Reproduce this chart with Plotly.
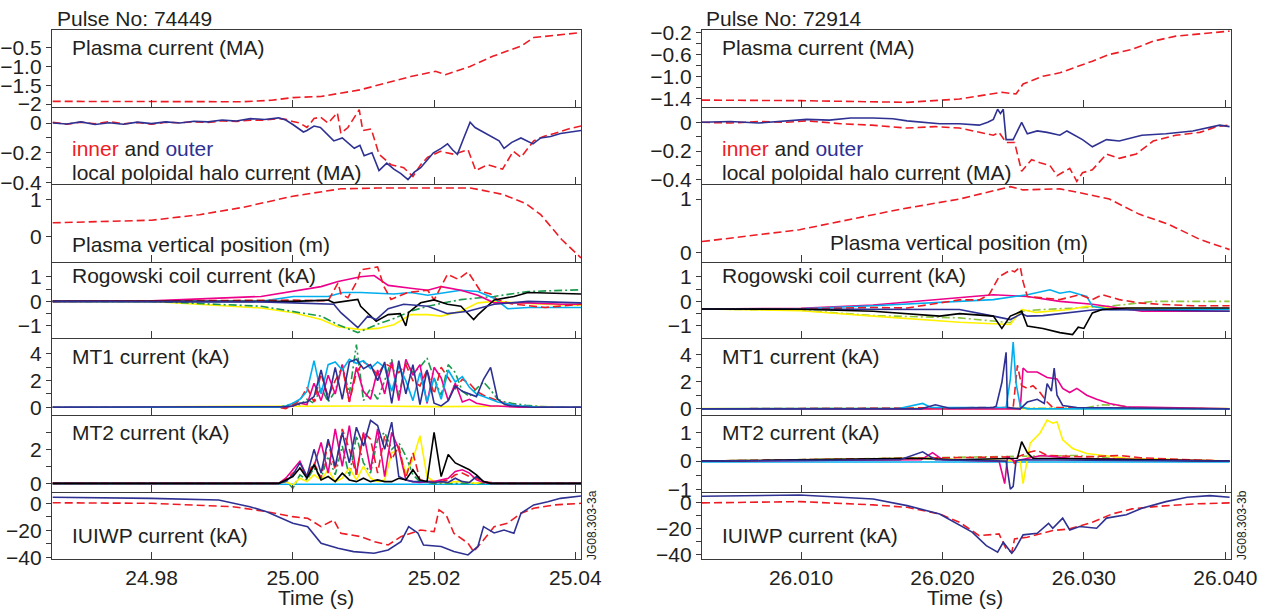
import plotly.graph_objects as go

# ---------------- colours ----------------
RED = '#ed1c24'; NAVY = '#2e3192'; MAGENTA = '#ec008c'; CYAN = '#00aeef'
BLACK = '#000000'; YELLOW = '#fff200'; GREEN_L = '#1a9b4b'; GREEN_R = '#8dc63f'
TXT = '#231f20'; AXC = '#3a3a3a'
FONT = 'Liberation Sans, Arial, sans-serif'

# ================= Pulse 74449 (left) =================
L_ip_t = [24.966, 24.975, 24.985, 24.993, 24.997, 25.000, 25.004, 25.0096, 25.0167, 25.0202, 25.0216, 25.0251, 25.0283, 25.0323, 25.0341, 25.0408]
L_ip_v = [-1.93, -1.94, -1.95, -1.94, -1.90, -1.83, -1.80, -1.62, -1.27, -1.13, -1.22, -1.00, -0.73, -0.46, -0.23, -0.10]

L_halo_out_t = [24.966, 24.968, 24.970, 24.972, 24.974, 24.976, 24.978, 24.980, 24.982, 24.984, 24.986, 24.988, 24.990, 24.992, 24.994, 24.996, 24.998, 24.999, 25.000,
                25.001, 25.0015, 25.002, 25.003, 25.0039, 25.0050, 25.0058, 25.0070, 25.0087, 25.0095, 25.0101, 25.0112, 25.0122, 25.0133,
                25.0143, 25.0153, 25.0163, 25.0172, 25.0181, 25.0190, 25.0199, 25.0210, 25.0219, 25.0226, 25.0233, 25.0242, 25.0251, 25.0258,
                25.0266, 25.0276, 25.0285, 25.0292, 25.0299, 25.0310, 25.0323, 25.0332, 25.0340, 25.0351, 25.0365, 25.0379, 25.0393, 25.0408]
L_halo_out_v = [0.0, -0.006, 0.008, -0.01, 0.002, -0.008, 0.006, -0.004, 0.008, 0.0, 0.012, 0.008, 0.02, 0.014, 0.03, 0.024, 0.035, 0.02, -0.01,
                -0.04, -0.06, -0.05, -0.02, -0.03, -0.08, -0.12, -0.10, -0.17, -0.15, -0.22, -0.20, -0.32, -0.27,
                -0.31, -0.34, -0.38, -0.33, -0.30, -0.25, -0.20, -0.17, -0.14, -0.18, -0.21, -0.10, 0.005, -0.03,
                -0.05, -0.08, -0.10, -0.12, -0.17, -0.13, -0.10, -0.12, -0.14, -0.10, -0.09, -0.07, -0.06, -0.05]
L_halo_in_t = [24.966, 24.968, 24.970, 24.972, 24.974, 24.976, 24.978, 24.980, 24.982, 24.984, 24.986, 24.988, 24.990, 24.992, 24.994, 24.996, 24.998, 24.999, 25.000,
               25.001, 25.002, 25.003, 25.0039, 25.0050, 25.0063, 25.0068, 25.0078, 25.0094, 25.0099, 25.0111, 25.0122, 25.0139,
               25.0157, 25.0170, 25.0181, 25.0191, 25.0209, 25.0228, 25.0248, 25.0259, 25.0276, 25.0297,
               25.0312, 25.0323, 25.0341, 25.0355, 25.0370, 25.0390, 25.0408]
L_halo_in_v = [0.005, -0.008, 0.006, -0.005, 0.01, -0.006, 0.004, -0.008, 0.005, 0.002, 0.008, 0.004, 0.015, 0.01, 0.02, 0.02, 0.03, 0.025, 0.01,
               0.0, -0.03, 0.03, 0.04, 0.0, 0.07, -0.07, -0.03, 0.09, -0.05, -0.04, -0.21, -0.28,
               -0.30, -0.36, -0.28, -0.23, -0.19, -0.21, -0.18, -0.32, -0.28, -0.31,
               -0.19, -0.23, -0.12, -0.09, -0.07, -0.04, -0.02]

L_zpos_t = [24.966, 24.980, 24.9868, 24.993, 25.000, 25.0068, 25.012, 25.020, 25.0251, 25.0266, 25.0297, 25.0330, 25.0351, 25.0381, 25.0408]
L_zpos_v = [0.38, 0.45, 0.60, 0.80, 1.10, 1.30, 1.32, 1.32, 1.32, 1.27, 1.15, 0.90, 0.60, -0.08, -0.57]

# Rogowski coil currents (kA)
L_rog_yellow_t = [24.966, 24.980, 24.9955, 25.0001, 25.0040, 25.0064, 25.0096, 25.0120, 25.0143, 25.0167, 25.0191, 25.0210, 25.0238, 25.0262, 25.0285, 25.0313, 25.0341, 25.0381, 25.0408]
L_rog_yellow_v = [0.0, 0.0, -0.27, -0.46, -0.74, -1.03, -1.15, -1.10, -0.95, -0.54, -0.54, -0.60, -0.40, -0.06, 0.0, -0.06, -0.10, -0.15, -0.15]
L_rog_green_t = [24.966, 24.980, 24.9955, 25.0001, 25.0040, 25.0064, 25.0092, 25.0120, 25.0143, 25.0167, 25.0191, 25.0214, 25.0238, 25.0285, 25.0333, 25.0408]
L_rog_green_v = [0.0, 0.0, -0.20, -0.40, -0.60, -0.95, -1.27, -0.93, -0.70, -0.40, -0.20, -0.06, 0.07, 0.20, 0.40, 0.47]
L_rog_magenta_t = [24.966, 24.980, 24.9955, 25.0001, 25.0040, 25.0064, 25.0096, 25.0115, 25.0135, 25.0167, 25.0191, 25.0210, 25.0238, 25.0262, 25.0285, 25.0333, 25.0381, 25.0408]
L_rog_magenta_v = [0.0, 0.02, 0.20, 0.40, 0.60, 0.81, 1.00, 1.05, 0.65, 0.53, 0.45, 0.60, 0.45, 0.25, -0.06, -0.06, -0.12, -0.12]
L_rog_red_t = [24.966, 24.9955, 25.0001, 25.0050, 25.0064, 25.0068, 25.0078, 25.0092, 25.0096, 25.0120, 25.0129, 25.0139, 25.0163, 25.0191, 25.0200, 25.0219, 25.0234, 25.0248, 25.0266, 25.0280, 25.0290, 25.0309, 25.0357, 25.0408]
L_rog_red_v = [0.0, 0.03, 0.05, 0.02, 0.75, 0.30, 0.15, 0.88, 1.28, 1.40, 0.60, 0.08, 0.36, 0.45, 0.06, 1.10, 0.90, 1.20, 0.40, 0.30, 0.06, -0.10, -0.25, -0.12]
L_rog_cyan_t = [24.966, 24.9955, 25.0001, 25.0050, 25.0071, 25.0096, 25.0143, 25.0167, 25.0191, 25.0238, 25.0262, 25.0285, 25.0304, 25.0333, 25.0408]
L_rog_cyan_v = [0.0, 0.0, 0.20, 0.20, 0.36, 0.36, 0.30, 0.36, 0.25, 0.45, 0.40, 0.13, -0.30, -0.25, -0.25]
L_rog_black_t = [24.966, 24.9955, 25.0001, 25.0050, 25.0058, 25.0092, 25.0096, 25.0118, 25.0135, 25.0152, 25.0160, 25.0164, 25.0181, 25.0200, 25.0219, 25.0238, 25.0256, 25.0262, 25.0285, 25.0313, 25.0333, 25.0408]
L_rog_black_v = [0.0, 0.0, 0.0, 0.05, -0.06, 0.08, -0.20, -0.81, -0.54, -0.50, -1.00, -0.45, -0.06, 0.06, -0.12, -0.20, -0.74, -0.55, 0.06, 0.20, 0.36, 0.30]
L_rog_navy_t = [24.966, 24.9955, 25.0001, 25.0058, 25.0068, 25.0092, 25.0106, 25.0118, 25.0135, 25.0157, 25.0191, 25.0219, 25.0248, 25.0266, 25.0285, 25.0333, 25.0408]
L_rog_navy_v = [0.0, -0.02, -0.06, -0.12, -0.46, -1.07, -0.60, -0.74, -0.30, -0.12, -0.20, -0.50, -0.40, -0.25, -0.12, 0.0, -0.06]

# MT1 / MT2 currents (kA) on a shared time base
L_mt_t = [24.966, 24.990, 24.998, 24.999, 25.000, 25.001, 25.002, 25.003, 25.004, 25.005, 25.006, 25.007,
          25.008, 25.009, 25.010, 25.011, 25.012, 25.013, 25.014, 25.015, 25.016, 25.017, 25.018, 25.019,
          25.020, 25.021, 25.022, 25.023, 25.024, 25.025, 25.026, 25.027, 25.028, 25.029, 25.030, 25.031,
          25.032, 25.033, 25.034, 25.035, 25.0408]
L_mt1_cyan = [0, 0] + [0.0, 0.1, 0.3, 0.6, 1.2, 3.5, 1.0, 3.2, 3.4, 2.8, 3.6, 3.3, 3.5, 2.9, 3.4, 3.0, 1.2, 3.1, 2.0, 0.5, 2.6, 0.4, 2.2, 0.6, 2.8, 1.9, 2.3, 1.5, 1.0, 0.8, 0.6, 0.4, 0.3, 0.2, 0.1, 0.1, 0.05, 0.0] + [0]
L_mt1_navy = [0, 0] + [0, 0.05, 0.1, 0.3, 0.4, 0.8, 2.8, 0.5, 3.0, 0.6, 3.4, 3.6, 2.9, 3.2, 2.0, 3.4, 0.3, 3.5, 1.0, 3.2, 0.2, 2.8, 0.3, 0.1, 0.5, 1.6, 1.2, 1.0, 0.8, 2.1, 3.0, 0.6, 0.2, 0.1, 0.05, 0, 0, 0] + [0]
L_mt1_red = [0, 0] + [0, -0.1, 0.2, 0.5, 1.5, 0.4, 2.5, 0.8, 2.0, 3.0, 0.4, 2.6, 3.4, 3.1, 2.4, 3.3, 3.0, 2.6, 3.2, 2.0, 1.6, 2.8, 1.0, 3.0, 2.2, 1.4, 2.1, 1.8, 1.2, 0.9, 0.7, 0.5, 0.3, 0.2, 0.1, 0.1, 0, 0] + [0]
L_mt1_magenta = [0, 0] + [0, 0, 0.1, 0.3, 0.2, 1.8, 0.5, 2.4, 1.0, 3.2, 0.4, 3.0, 1.2, 0.6, 2.8, 1.0, 3.4, 0.5, 3.6, 2.4, 3.2, 0.3, 3.0, 2.2, 0.5, 1.8, 0.4, 0.6, 0.3, 0.2, 0.1, 0.1, 0.05, 0, 0, 0, 0, 0] + [0]
L_mt1_green = [0, 0] + [0, 0.1, 0.3, 0.2, 0.6, 0.3, 1.5, 0.4, 1.2, 3.2, 1.0, 4.7, 0.5, 1.4, 0.6, 2.0, 3.6, 0.8, 3.4, 2.6, 3.0, 3.7, 2.2, 0.9, 3.2, 2.6, 1.2, 0.8, 1.4, 1.9, 1.3, 0.6, 0.4, 0.3, 0.2, 0.15, 0.1, 0.05] + [0]
L_mt1_yellow_t = [24.966, 25.000, 25.010, 25.020, 25.030, 25.0408]
L_mt1_yellow_v = [0.0, 0.05, 0.10, 0.05, 0.08, 0.02]

L_mt2_navy = [0, 0] + [0, 0.1, 0.5, 1.2, 0.4, 2.0, 0.6, 2.6, 1.0, 3.0, 1.2, 3.3, 2.2, 3.7, 3.4, 2.0, 3.6, 0.4, 0.2, 0.1, 0.1, 0.1, 0.05, 0.1, 0.05, 0.3, 0.1, 0.05, 0.4, 0.1, 0, 0, 0, 0, 0, 0, 0, 0] + [0]
L_mt2_red = [0, 0] + [0, 0.2, 0.6, 0.9, 0.5, 1.2, 0.3, 2.4, 0.8, 3.2, 2.0, 0.5, 3.0, 2.6, 0.6, 2.8, 1.4, 2.2, 0.3, 1.8, 0.2, 0.1, 0.1, 0.1, 0.2, 0.5, 0.6, 0.4, 0.3, 0.1, 0.05, 0, 0, 0, 0, 0, 0, 0] + [0]
L_mt2_magenta = [0, 0] + [0, 0.3, 0.8, 1.3, 0.4, 1.0, 2.4, 0.6, 3.2, 1.0, 3.4, 0.5, 3.0, 0.8, 3.2, 0.4, 3.0, 2.0, 0.2, 0.1, 0.05, 0.1, 0.1, 0.2, 0.3, 0.7, 0.8, 0.6, 0.2, 0.05, 0, 0, 0, 0, 0, 0, 0, 0] + [0]
L_mt2_green = [0, 0] + [0, 0.2, -0.3, 0.5, 0.2, 0.9, 0.3, 1.6, 0.5, 2.2, 0.4, 2.8, 1.2, 0.6, 2.6, 3.0, 2.0, 2.4, 1.6, 0.5, 0.1, 0.05, 0, 0, 0, 0, 0, 0, 0, 0, 0, 0, 0, 0, 0, 0, 0, 0] + [0]
L_mt2_yellow = [0, 0] + [0, 0.1, -0.1, 0.3, 0.1, 0.5, 0.2, 0.8, 0.1, 0.3, 0.9, 0.2, 1.0, 0.3, 0.1, 0.2, 1.8, 2.0, 0.6, 1.4, 2.8, 0.4, 0.1, 0.05, 0.05, 0.1, 0.1, 0.05, 0, 0.1, 0, 0, 0, 0, 0, 0, 0, 0] + [0]
L_mt2_black = [0, 0] + [0, 0.2, 0.4, 0.9, 0.3, 1.1, 0.2, 0.4, 0.1, 0.6, 0.2, 0.1, 0.3, 0.1, 0.2, 0.1, 0.1, 0.3, 0.2, 0.8, 0.2, 0.1, 3.0, 0.4, 1.7, 1.2, 1.0, 0.8, 0.5, 0.1, 0, 0, 0, 0, 0, 0, 0, 0] + [0]
L_mt2_cyan_t = [24.966, 25.0408]
L_mt2_cyan_v = [-0.05, -0.05]

L_iu_navy_t = [24.966, 24.980, 24.9895, 24.9939, 24.9963, 25.000, 25.0021, 25.004, 25.0064, 25.0086, 25.0115, 25.0135, 25.0153, 25.0164, 25.0177, 25.0185, 25.0210, 25.0228, 25.0248, 25.0262, 25.0270, 25.0285, 25.0299, 25.0313, 25.0323, 25.0341, 25.0361, 25.0379, 25.0408]
L_iu_navy_v = [4.5, 3.7, 2.5, -2.5, -6.2, -14.8, -17.3, -29.6, -33.3, -35.8, -37.0, -34.6, -28.4, -17.3, -22.0, -30.9, -32.0, -35.8, -38.3, -32.0, -17.3, -22.0, -19.8, -22.2, -7.4, -1.2, 1.2, 3.7, 5.4]
L_iu_red_t = [24.966, 24.980, 24.9915, 24.9963, 25.000, 25.0021, 25.004, 25.0058, 25.0068, 25.0096, 25.0115, 25.0135, 25.0153, 25.0181, 25.0200, 25.0207, 25.0217, 25.0228, 25.0248, 25.0256, 25.0270, 25.0285, 25.0304, 25.0323, 25.0341, 25.0370, 25.0408]
L_iu_red_v = [0.4, 0.0, -2.5, -6.2, -9.9, -11.1, -17.3, -12.3, -22.2, -24.7, -28.4, -30.9, -24.7, -19.8, -21.0, -4.9, -8.6, -22.2, -29.6, -35.8, -27.2, -17.3, -14.8, -7.4, -3.7, -1.2, 0.0]

# ================= Pulse 72914 (right) =================
R_ip_t = [26.003, 26.010, 26.0175, 26.0212, 26.0242, 26.0252, 26.0257, 26.0271, 26.0283, 26.0297, 26.0306, 26.0318, 26.0334, 26.0349, 26.0365, 26.0403]
R_ip_v = [-1.42, -1.43, -1.46, -1.40, -1.28, -1.31, -1.13, -0.99, -0.93, -0.81, -0.72, -0.60, -0.51, -0.36, -0.27, -0.18]

R_halo_out_t = [26.003, 26.005, 26.007, 26.009, 26.0104, 26.012, 26.0135, 26.0151, 26.0165, 26.0175, 26.0188, 26.0198, 26.0212, 26.0226, 26.0232, 26.0236, 26.0239, 26.0241, 26.0243, 26.0245,
                26.0250, 26.0256, 26.0260, 26.0267, 26.0274, 26.0283, 26.0288, 26.0299, 26.0306, 26.0316, 26.0325, 26.0341, 26.0358, 26.0377, 26.0396, 26.0403]
R_halo_out_v = [0.0, 0.005, -0.005, 0.01, 0.02, 0.015, 0.03, 0.03, 0.025, 0.01, 0.0, -0.01, -0.01, -0.02, 0.0, 0.02, 0.09, 0.06, 0.09, -0.12,
                -0.12, 0.0, -0.08, -0.06, -0.07, -0.09, -0.06, -0.12, -0.17, -0.12, -0.13, -0.09, -0.08, -0.06, -0.02, -0.03]
R_halo_in_t = [26.003, 26.005, 26.007, 26.009, 26.0104, 26.0128, 26.0150, 26.0175, 26.0195, 26.0212, 26.0236, 26.0240, 26.0245, 26.0251, 26.0256, 26.0263, 26.0269, 26.0276, 26.0281, 26.0290,
               26.0295, 26.0299, 26.0306, 26.0316, 26.0325, 26.0337, 26.0349, 26.0365, 26.0382, 26.0394, 26.0403]
R_halo_in_v = [0.0, -0.005, 0.005, 0.0, 0.01, -0.01, -0.02, -0.04, -0.03, -0.04, -0.09, -0.07, -0.14, -0.14, -0.34, -0.26, -0.28, -0.30, -0.37, -0.32,
               -0.41, -0.35, -0.33, -0.22, -0.25, -0.22, -0.13, -0.09, -0.07, -0.03, -0.02]

R_zpos_t = [26.003, 26.0099, 26.017, 26.0212, 26.0248, 26.0257, 26.0283, 26.0295, 26.0318, 26.0339, 26.0360, 26.0382, 26.0403]
R_zpos_v = [0.21, 0.43, 0.81, 1.00, 1.23, 1.17, 1.19, 1.13, 1.00, 0.72, 0.53, 0.25, 0.06]

R_rog_red_t = [26.003, 26.010, 26.0151, 26.0175, 26.0212, 26.0226, 26.0233, 26.0240, 26.0248, 26.0251, 26.0255, 26.0257, 26.0260, 26.0271, 26.0283, 26.0297, 26.0306, 26.0313, 26.0325, 26.0339, 26.0353, 26.0377, 26.0403]
R_rog_red_v = [-0.31, -0.31, -0.25, -0.27, 0.06, 0.06, 0.27, 1.00, 1.27, 1.20, 1.40, 0.80, 0.20, 0.15, 0.07, 0.27, 0.07, 0.27, 0.07, -0.06, -0.12, -0.18, -0.18]
R_rog_cyan_t = [26.003, 26.010, 26.0151, 26.0212, 26.0236, 26.0260, 26.0276, 26.0283, 26.0290, 26.0302, 26.0306, 26.0318, 26.0403]
R_rog_cyan_v = [-0.31, -0.30, -0.18, 0.0, 0.07, 0.27, 0.47, 0.33, 0.40, 0.20, -0.20, -0.33, -0.33]
R_rog_magenta_t = [26.003, 26.010, 26.0151, 26.0212, 26.0236, 26.0260, 26.0283, 26.0306, 26.0341, 26.0403]
R_rog_magenta_v = [-0.31, -0.28, -0.15, 0.13, 0.27, 0.20, 0.0, -0.12, -0.40, -0.40]
R_rog_black_t = [26.003, 26.010, 26.0151, 26.0198, 26.0212, 26.0236, 26.0242, 26.0248, 26.0256, 26.0260, 26.0271, 26.0283, 26.0292, 26.0296, 26.0300, 26.0306, 26.0313, 26.0330, 26.0403]
R_rog_black_v = [-0.31, -0.32, -0.40, -0.60, -0.50, -0.60, -1.10, -0.60, -0.40, -1.00, -1.10, -1.27, -1.35, -1.05, -1.10, -0.47, -0.33, -0.27, -0.27]
R_rog_yellow_t = [26.003, 26.010, 26.0151, 26.0212, 26.0248, 26.0256, 26.0266, 26.0278, 26.0290, 26.0302, 26.0318, 26.0403]
R_rog_yellow_v = [-0.31, -0.38, -0.60, -0.85, -0.94, -0.33, -0.45, -0.40, -0.33, -0.20, -0.27, -0.33]
R_rog_navy_t = [26.003, 26.010, 26.0151, 26.0212, 26.0236, 26.0248, 26.0256, 26.0260, 26.0271, 26.0283, 26.0295, 26.0306, 26.0318, 26.0403]
R_rog_navy_v = [-0.31, -0.31, -0.32, -0.33, -0.60, -0.74, -0.50, -0.60, -0.58, -0.50, -0.40, -0.35, -0.33, -0.40]
R_rog_green_t = [26.003, 26.010, 26.0151, 26.0212, 26.0236, 26.0248, 26.0256, 26.0271, 26.0295, 26.0318, 26.0349, 26.0377, 26.0403]
R_rog_green_v = [-0.31, -0.36, -0.58, -0.67, -0.80, -0.87, -0.40, -0.33, -0.27, -0.20, 0.0, 0.0, 0.0]

R_mt1_navy_t = [26.003, 26.0185, 26.0195, 26.0205, 26.0236, 26.0238, 26.0242, 26.0245, 26.0246, 26.0255, 26.0260, 26.0267, 26.0272, 26.0274, 26.0277, 26.0279, 26.0281, 26.0285, 26.0295, 26.0403]
R_mt1_navy_v = [0, 0.0, 0.3, 0.05, 0.1, 0.2, 1.93, 4.15, 0.1, 0.0, 0.5, 0.7, 0.4, 1.85, 1.3, 3.0, 1.0, 0.25, 0.1, 0.0]
R_mt1_cyan_t = [26.003, 26.017, 26.0186, 26.0192, 26.0245, 26.0248, 26.0250, 26.0252, 26.0255, 26.0260, 26.0403]
R_mt1_cyan_v = [0, 0.05, 0.4, 0.1, 0.1, 2.2, 4.9, 1.9, 0.2, 0.0, 0.0]
R_mt1_red_t = [26.003, 26.0250, 26.0253, 26.0256, 26.0260, 26.0264, 26.0269, 26.0274, 26.0278, 26.0403]
R_mt1_red_v = [0, 0.1, 3.2, 1.7, 1.5, 1.7, 1.2, 0.5, 0.1, 0.0]
R_mt1_magenta_t = [26.003, 26.0255, 26.0257, 26.0260, 26.0267, 26.0274, 26.0281, 26.0285, 26.0290, 26.0295, 26.0302, 26.0309, 26.0318, 26.0330, 26.0403]
R_mt1_magenta_v = [0, 0.0, 3.0, 2.7, 2.7, 2.3, 2.2, 1.5, 1.2, 1.5, 1.0, 0.7, 0.4, 0.15, 0.0]
R_mt1_green_t = [26.003, 26.030, 26.0313, 26.0325, 26.0337, 26.0403]
R_mt1_green_v = [0, 0.05, 0.3, 0.25, 0.05, 0.0]
R_mt1_yellow_t = [26.003, 26.0403]
R_mt1_yellow_v = [0.02, 0.02]

R_mt2_navy_t = [26.003, 26.017, 26.0186, 26.0195, 26.0245, 26.0248, 26.0250, 26.0252, 26.0255, 26.0403]
R_mt2_navy_v = [0, 0.05, 0.33, 0.05, 0.0, -1.0, -0.9, 0.0, 0.05, 0.0]
R_mt2_magenta_t = [26.003, 26.0185, 26.0193, 26.0200, 26.0240, 26.0244, 26.0246, 26.0251, 26.0270, 26.0290, 26.0403]
R_mt2_magenta_v = [0, 0.05, 0.3, 0.05, 0.0, -0.8, 0.15, 0.0, 0.2, 0.1, 0.0]
R_mt2_yellow_t = [26.003, 26.018, 26.022, 26.0255, 26.0257, 26.0262, 26.0269, 26.0274, 26.0278, 26.0281, 26.0285, 26.0292, 26.0302, 26.0318, 26.0330, 26.0403]
R_mt2_yellow_v = [0, 0.1, 0.05, 0.0, -0.8, 0.64, 1.0, 1.46, 1.35, 1.4, 0.76, 0.45, 0.27, 0.18, 0.1, 0.0]
R_mt2_black_t = [26.003, 26.018, 26.021, 26.0253, 26.0256, 26.0260, 26.0264, 26.0285, 26.030, 26.0403]
R_mt2_black_v = [0, 0.1, 0.05, 0.1, 0.69, 0.3, 0.1, 0.1, 0.08, 0.0]
R_mt2_red_t = [26.003, 26.0249, 26.0251, 26.0253, 26.0262, 26.0267, 26.0274, 26.0302, 26.0325, 26.0340, 26.0377, 26.0403]
R_mt2_red_v = [0, 0.15, -0.1, 0.15, 0.32, 0.38, 0.2, 0.15, 0.2, 0.12, 0.04, 0.0]
R_mt2_green_t = [26.003, 26.0274, 26.0295, 26.0320, 26.0376, 26.0403]
R_mt2_green_v = [0, 0.2, 0.2, 0.1, 0.05, 0.0]
R_mt2_cyan_t = [26.003, 26.0403]
R_mt2_cyan_v = [-0.03, -0.03]

R_iu_navy_t = [26.003, 26.0099, 26.0151, 26.0175, 26.0198, 26.0212, 26.0221, 26.0231, 26.0239, 26.0243, 26.0249, 26.0251, 26.0257, 26.0267, 26.0275, 26.0278, 26.0285, 26.0290, 26.0297, 26.0309, 26.0316, 26.0330, 26.0341, 26.0358, 26.0373, 26.0389, 26.0403]
R_iu_navy_v = [4.6, 5.6, 2.5, -2.6, -9.0, -17.5, -23.0, -33.4, -38.5, -30.8, -39.3, -36.7, -25.1, -23.9, -16.2, -20.0, -12.2, -21.3, -18.7, -20.0, -12.2, -9.7, -4.6, 0.5, 3.8, 5.1, 3.8]
R_iu_red_t = [26.003, 26.0099, 26.0151, 26.0175, 26.0198, 26.0212, 26.0226, 26.0240, 26.0245, 26.0249, 26.0251, 26.0260, 26.0278, 26.0290, 26.0306, 26.0320, 26.0334, 26.0353, 26.0377, 26.0403]
R_iu_red_v = [-0.5, 0.5, -2.0, -3.9, -9.0, -15.4, -25.7, -24.4, -35.9, -38.5, -28.2, -26.9, -21.8, -20.5, -15.4, -9.0, -5.1, -3.1, -1.3, -0.5]

# ---------------- axis tick labels ----------------
L_xticks = [24.98, 25.00, 25.02, 25.04]; L_xtext = ['24.98', '25.00', '25.02', '25.04']
R_xticks = [26.01, 26.02, 26.03, 26.04]; R_xtext = ['26.010', '26.020', '26.030', '26.040']

# ---------------- layout geometry (pixels) ----------------
W, H = 1275, 612
PB = [30, 107, 184, 262, 338, 415, 492, 559]
COLX = [(52, 581), (702, 1231)]
XR = [[24.9659, 25.0408], [26.0030, 26.0404]]
XT = [(L_xticks, L_xtext), (R_xticks, R_xtext)]

M = '\u2212'
YCFG = [
    [  # left
        dict(r=[-2.08, -0.03], tv=[-0.5, -1.0, -1.5, -2], tt=[M+'0.5', M+'1.0', M+'1.5', M+'2'], mv=[]),
        dict(r=[-0.41, 0.108], tv=[0, -0.2, -0.4], tt=['0', M+'0.2', M+'0.4'], mv=[-0.1, -0.3]),
        dict(r=[-0.68, 1.43], tv=[1, 0], tt=['1', '0'], mv=[]),
        dict(r=[-1.49, 1.6], tv=[1, 0, -1], tt=['1', '0', M+'1'], mv=[0.5, -0.5]),
        dict(r=[-0.58, 5.2], tv=[4, 2, 0], tt=['4', '2', '0'], mv=[3, 1]),
        dict(r=[-0.51, 4.02], tv=[2, 0], tt=['2', '0'], mv=[3, 1]),
        dict(r=[-41.3, 8.4], tv=[0, -20, -40], tt=['0', M+'20', M+'40'], mv=[-10, -30]),
    ],
    [  # right
        dict(r=[-1.544, -0.16], tv=[-0.2, -0.6, -1.0, -1.4], tt=[M+'0.2', M+'0.6', M+'1.0', M+'1.4'], mv=[-0.4, -0.8, -1.2]),
        dict(r=[-0.428, 0.106], tv=[0, -0.2, -0.4], tt=['0', M+'0.2', M+'0.4'], mv=[-0.1, -0.3]),
        dict(r=[-0.17, 1.28], tv=[1, 0], tt=['1', '0'], mv=[]),
        dict(r=[-1.49, 1.6], tv=[1, 0, -1], tt=['1', '0', M+'1'], mv=[0.5, -0.5]),
        dict(r=[-0.45, 5.2], tv=[4, 2, 0], tt=['4', '2', '0'], mv=[3, 1]),
        dict(r=[-1.1, 1.64], tv=[1, 0, -1], tt=['1', '0', M+'1'], mv=[0.5, -0.5]),
        dict(r=[-43.7, 7.9], tv=[0, -20, -40], tt=['0', M+'20', M+'40'], mv=[-10, -30]),
    ],
]

fig = go.Figure()

def axn(col, row):
    return col * 7 + row + 1

def line(col, row, t, v, color, dash='solid', width=1.6):
    n = axn(col, row)
    fig.add_trace(go.Scatter(x=t, y=v, mode='lines',
                             line=dict(color=color, width=width, dash=dash),
                             xaxis='x' if n == 1 else f'x{n}', yaxis='y' if n == 1 else f'y{n}',
                             showlegend=False, hoverinfo='skip'))

DASH = '8px,4px'
DDOT = '8px,3px,2px,3px'

# ---- left traces ----
line(0, 0, L_ip_t, L_ip_v, RED, DASH)
line(0, 1, L_halo_in_t, L_halo_in_v, RED, DASH)
line(0, 1, L_halo_out_t, L_halo_out_v, NAVY)
line(0, 2, L_zpos_t, L_zpos_v, RED, DASH)
line(0, 3, L_rog_yellow_t, L_rog_yellow_v, YELLOW)
line(0, 3, L_rog_green_t, L_rog_green_v, GREEN_L, DDOT)
line(0, 3, L_rog_cyan_t, L_rog_cyan_v, CYAN)
line(0, 3, L_rog_magenta_t, L_rog_magenta_v, MAGENTA)
line(0, 3, L_rog_red_t, L_rog_red_v, RED, DASH)
line(0, 3, L_rog_black_t, L_rog_black_v, BLACK)
line(0, 3, L_rog_navy_t, L_rog_navy_v, NAVY)
line(0, 4, L_mt1_yellow_t, L_mt1_yellow_v, YELLOW)
line(0, 4, L_mt_t, L_mt1_green, GREEN_L, DDOT)
line(0, 4, L_mt_t, L_mt1_magenta, MAGENTA)
line(0, 4, L_mt_t, L_mt1_red, RED, DASH)
line(0, 4, L_mt_t, L_mt1_cyan, CYAN)
line(0, 4, L_mt_t, L_mt1_navy, NAVY)
line(0, 5, L_mt2_cyan_t, L_mt2_cyan_v, CYAN)
line(0, 5, L_mt_t, L_mt2_green, GREEN_L, DDOT)
line(0, 5, L_mt_t, L_mt2_yellow, YELLOW)
line(0, 5, L_mt_t, L_mt2_magenta, MAGENTA)
line(0, 5, L_mt_t, L_mt2_red, RED, DASH)
line(0, 5, L_mt_t, L_mt2_navy, NAVY)
line(0, 5, L_mt_t, L_mt2_black, BLACK)
line(0, 6, L_iu_red_t, L_iu_red_v, RED, DASH)
line(0, 6, L_iu_navy_t, L_iu_navy_v, NAVY)

# ---- right traces ----
line(1, 0, R_ip_t, R_ip_v, RED, DASH)
line(1, 1, R_halo_in_t, R_halo_in_v, RED, DASH)
line(1, 1, R_halo_out_t, R_halo_out_v, NAVY)
line(1, 2, R_zpos_t, R_zpos_v, RED, DASH)
line(1, 3, R_rog_green_t, R_rog_green_v, GREEN_R, DDOT)
line(1, 3, R_rog_yellow_t, R_rog_yellow_v, YELLOW)
line(1, 3, R_rog_magenta_t, R_rog_magenta_v, MAGENTA)
line(1, 3, R_rog_cyan_t, R_rog_cyan_v, CYAN)
line(1, 3, R_rog_red_t, R_rog_red_v, RED, DASH)
line(1, 3, R_rog_navy_t, R_rog_navy_v, NAVY)
line(1, 3, R_rog_black_t, R_rog_black_v, BLACK)
line(1, 4, R_mt1_yellow_t, R_mt1_yellow_v, YELLOW)
line(1, 4, R_mt1_green_t, R_mt1_green_v, GREEN_R, DDOT)
line(1, 4, R_mt1_magenta_t, R_mt1_magenta_v, MAGENTA)
line(1, 4, R_mt1_red_t, R_mt1_red_v, RED, DASH)
line(1, 4, R_mt1_cyan_t, R_mt1_cyan_v, CYAN)
line(1, 4, R_mt1_navy_t, R_mt1_navy_v, NAVY)
line(1, 5, R_mt2_cyan_t, R_mt2_cyan_v, CYAN)
line(1, 5, R_mt2_green_t, R_mt2_green_v, GREEN_R, DDOT)
line(1, 5, R_mt2_yellow_t, R_mt2_yellow_v, YELLOW)
line(1, 5, R_mt2_red_t, R_mt2_red_v, RED, DASH)
line(1, 5, R_mt2_magenta_t, R_mt2_magenta_v, MAGENTA)
line(1, 5, R_mt2_black_t, R_mt2_black_v, BLACK)
line(1, 5, R_mt2_navy_t, R_mt2_navy_v, NAVY)
line(1, 6, R_iu_red_t, R_iu_red_v, RED, DASH)
line(1, 6, R_iu_navy_t, R_iu_navy_v, NAVY)

# ---------------- axes ----------------
lay = {}
for col in (0, 1):
    x0, x1 = COLX[col]
    for row in range(7):
        n = axn(col, row)
        sfx = '' if n == 1 else str(n)
        yc = YCFG[col][row]
        bottom = row == 6
        lay['xaxis' + sfx] = dict(
            domain=[x0 / W, x1 / W], range=XR[col], anchor='y' + sfx, automargin=False,
            showline=True, mirror=(row == 0), linecolor=AXC, linewidth=1.3,
            ticks='inside', ticklen=7, tickwidth=1.2, tickcolor=AXC,
            tickmode='array', tickvals=XT[col][0], ticktext=XT[col][1],
            showticklabels=bottom, tickfont=dict(family=FONT, size=21, color=TXT),
            showgrid=False, zeroline=False, fixedrange=True)
        lay['yaxis' + sfx] = dict(
            domain=[1 - PB[row + 1] / H, 1 - PB[row] / H], range=yc['r'], anchor='x' + sfx, automargin=False,
            showline=True, mirror=True, linecolor=AXC, linewidth=1.3,
            ticks='outside', ticklen=5, tickwidth=1.2, tickcolor=AXC,
            tickmode='array', tickvals=yc['tv'], ticktext=yc['tt'],
            minor=dict(tickmode='array', tickvals=yc['mv'], ticks='outside', ticklen=5, tickwidth=1.2, tickcolor=AXC),
            tickfont=dict(family=FONT, size=21, color=TXT),
            showgrid=False, zeroline=False, fixedrange=True)

# ---------------- text ----------------
ann = []
def text(x, y, s, size=21, xanchor='left', angle=0, color=TXT):
    ann.append(dict(x=x / W, y=1 - y / H, xref='paper', yref='paper', text=s, showarrow=False,
                    xanchor=xanchor, yanchor='middle', textangle=angle,
                    font=dict(family=FONT, size=size, color=color)))

inner_outer = f'<span style="color:{RED}">inner</span> and <span style="color:{NAVY}">outer</span>'
for col, xl in ((0, 70), (1, 720)):
    text(xl, 48, 'Plasma current (MA)')
    text(xl, 148, inner_outer)
    text(xl, 172, 'local poloidal halo current (MA)')
    text(xl, 276, 'Rogowski coil current (kA)')
    text(xl, 356, 'MT1 current (kA)')
    text(xl, 432, 'MT2 current (kA)')
    text(xl, 535, 'IUIWP current (kA)')
text(70, 244, 'Plasma vertical position (m)')
text(828, 243, 'Plasma vertical position (m)')
text(55, 18, 'Pulse No: 74449')
text(704, 18, 'Pulse No: 72914')
text(316, 597, 'Time (s)', xanchor='center')
text(965, 597, 'Time (s)', xanchor='center')
text(592, 525, 'JG08.303-3a', size=12, xanchor='center', angle=-90)
text(1242, 525, 'JG08.303-3b', size=12, xanchor='center', angle=-90)

fig.update_layout(width=W, height=H, margin=dict(l=0, r=0, t=0, b=0, autoexpand=False),
                  paper_bgcolor='white', plot_bgcolor='white',
                  font=dict(family=FONT, color=TXT), annotations=ann, **lay)

fig.write_html('out.html', config={'displayModeBar': False},
               post_script="document.body.style.margin='0';document.body.style.overflow='hidden';")
